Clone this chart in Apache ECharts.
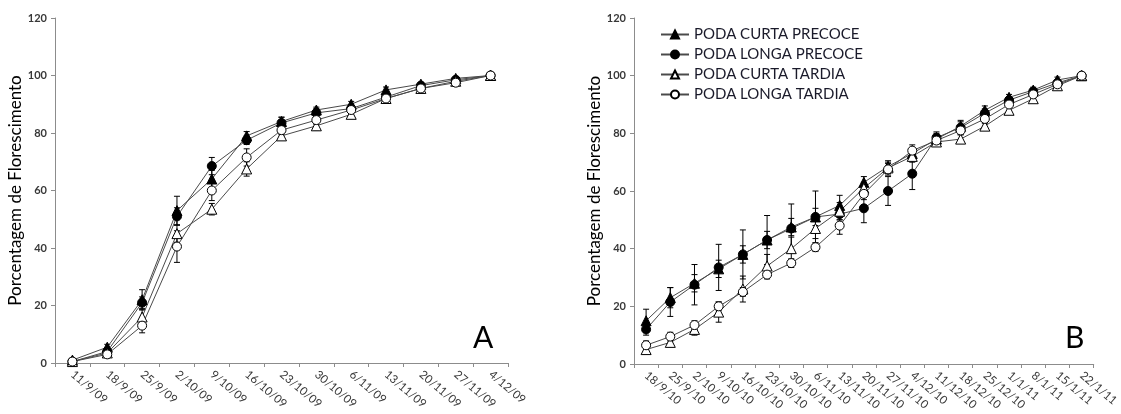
<!DOCTYPE html>
<html>
<head>
<meta charset="utf-8">
<script src="https://cdn.jsdelivr.net/npm/echarts@6/dist/echarts.min.js"></script>
<style>
  html, body { margin: 0; padding: 0; background: #fff; }
  #chart { width: 1121px; height: 414px; }
</style>
</head>
<body>
<div id="chart"></div>
<script>
// categorias (datas)
var datasA = ['11/9/09', '18/9/09', '25/9/09', '2/10/09', '9/10/09', '16/10/09', '23/10/09',
  '30/10/09', '6/11/09', '13/11/09', '20/11/09', '27/11/09', '4/12/09'];
var datasB = ['18/9/10', '25/9/10', '2/10/10', '9/10/10', '16/10/10', '23/10/10', '30/10/10',
  '6/11/10', '13/11/10', '20/11/10', '27/11/10', '4/12/10', '11/12/10', '18/12/10',
  '25/12/10', '1/1/11', '8/1/11', '15/1/11', '22/1/11'];
var yTicks = [0, 20, 40, 60, 80, 100, 120];

var nomes = ['PODA CURTA PRECOCE', 'PODA LONGA PRECOCE', 'PODA CURTA TARDIA', 'PODA LONGA TARDIA'];

// painel A - media e erro
var curtaPrecoceA = [1, 5.5, 22, 53, 64, 79, 84, 88, 90, 95, 97, 99, 100];
var longaPrecoceA = [0.5, 4, 21, 51, 68.5, 77.5, 83.5, 87, 88.5, 92.5, 96.5, 98.5, 100];
var curtaTardiaA = [0.5, 3.5, 16, 45, 53.5, 67.5, 79, 82.5, 86.5, 92, 95.5, 98, 100];
var longaTardiaA = [0.5, 3, 13, 40.5, 60, 71.5, 81, 84.5, 88, 92, 95.5, 97.5, 100];
var erroCurtaPrecoceA = [0.5, 1, 3.5, 5, 3, 1.5, 1.5, 1, 1, 1, 0.5, 0.5, 0];
var erroLongaPrecoceA = [0.5, 1, 2, 3, 3, 1.5, 2, 1.5, 1, 1, 1, 0.5, 0];
var erroCurtaTardiaA = [0.5, 1, 2.5, 3, 2, 2.5, 1.5, 1.5, 1, 1, 1, 0.5, 0];
var erroLongaTardiaA = [0.5, 1, 2.5, 5.5, 3.5, 3, 1.5, 1.5, 1, 1, 1, 0.5, 0];

// painel B - media e erro
var curtaPrecoceB = [15, 23, 28, 33, 38, 43, 47.5, 51, 55, 63, 68.5, 73, 78, 82.5, 88, 92.5, 95, 98.5, 100];
var longaPrecoceB = [12, 21.5, 27.5, 33.5, 38, 43, 47, 51, 52, 54, 60, 66, 78.5, 82, 87, 91.5, 94.5, 97.5, 100];
var curtaTardiaB = [5, 7.5, 12, 18, 26, 34, 40, 47, 53, 61, 68, 72, 77, 78, 82.5, 88, 92, 96.5, 100];
var longaTardiaB = [6.5, 9.5, 13.5, 20, 25, 31, 35, 40.5, 48, 59, 67.5, 74, 77.5, 81, 85, 90, 93.5, 97, 100];
var erroCurtaPrecoceB = [4, 3.5, 3, 3, 3, 3, 3, 3, 3.5, 2, 2, 2, 2, 1.5, 1.5, 1, 1, 1, 0];
var erroLongaPrecoceB = [2, 5, 7, 8, 8.5, 8.5, 8.5, 9, 2, 5, 5, 5.5, 2, 2.5, 1.5, 1, 1, 0.5, 0];
var erroCurtaTardiaB = [1.5, 1.5, 2, 3.5, 4.5, 4, 4, 3.5, 3, 2, 2, 2, 1.5, 1.5, 1, 1, 1, 0.5, 0];
var erroLongaTardiaB = [1.5, 1.5, 1.5, 1.5, 1.5, 1.5, 1.5, 1.5, 3, 2, 2, 2, 1.5, 1, 1, 1, 1, 0.5, 0];

var fonte = 'Lato';
var corEixo = '#8c8c8c';
var corTexto = '#383838';

// estilo de cada tratamento: simbolo e preenchimento
var estilos = [
  { symbol: 'triangle', size: 10, fill: '#000' },
  { symbol: 'circle', size: 9, fill: '#000' },
  { symbol: 'triangle', size: 10, fill: '#fff' },
  { symbol: 'circle', size: 9, fill: '#fff' }
];

function serieLinha(i, dados, idx) {
  return {
    name: nomes[i],
    type: 'line',
    xAxisIndex: idx,
    yAxisIndex: idx,
    data: dados,
    symbol: estilos[i].symbol,
    symbolSize: estilos[i].size,
    showAllSymbol: true,
    lineStyle: { color: '#4a4a4a', width: 1 },
    itemStyle: { color: estilos[i].fill, borderColor: '#000', borderWidth: 1 },
    z: 3,
    animation: false
  };
}

function renderErro(params, api) {
  var x = api.value(0), y = api.value(1), e = api.value(2);
  if (!e) return null;
  var hi = api.coord([x, y + e]);
  var lo = api.coord([x, y - e]);
  var w = 3;
  var st = { stroke: '#000', lineWidth: 1 };
  return {
    type: 'group',
    children: [
      { type: 'line', shape: { x1: hi[0], y1: hi[1], x2: lo[0], y2: lo[1] }, style: st },
      { type: 'line', shape: { x1: hi[0] - w, y1: hi[1], x2: hi[0] + w, y2: hi[1] }, style: st },
      { type: 'line', shape: { x1: lo[0] - w, y1: lo[1], x2: lo[0] + w, y2: lo[1] }, style: st }
    ]
  };
}

function serieErro(medias, erros, idx) {
  var d = [];
  for (var k = 0; k < medias.length; k++) {
    d.push([k, medias[k], erros[k]]);
  }
  return {
    type: 'custom',
    xAxisIndex: idx,
    yAxisIndex: idx,
    renderItem: renderErro,
    encode: { x: 0, y: 1 },
    data: d,
    z: 2,
    silent: true,
    animation: false
  };
}

function eixoX(cats, idx) {
  return {
    type: 'category',
    gridIndex: idx,
    data: cats,
    boundaryGap: true,
    axisLine: { lineStyle: { color: corEixo, width: 1 } },
    axisTick: { show: true, length: 4, lineStyle: { color: corEixo } },
    axisLabel: {
      interval: 0,
      rotate: -40,
      margin: 10,
      fontFamily: fonte,
      fontSize: 11.5,
      color: corTexto
    },
    splitLine: { show: false }
  };
}

function eixoY(idx) {
  return {
    type: 'value',
    gridIndex: idx,
    min: yTicks[0],
    max: yTicks[yTicks.length - 1],
    interval: yTicks[1] - yTicks[0],
    name: 'Porcentagem de Florescimento',
    nameLocation: 'middle',
    nameGap: 27,
    nameTextStyle: { fontFamily: fonte, fontSize: 17, color: '#000' },
    axisLine: { show: true, lineStyle: { color: corEixo, width: 1 } },
    axisTick: { show: true, length: 4, lineStyle: { color: corEixo } },
    axisLabel: { fontFamily: fonte, fontSize: 11, fontWeight: 'bold', color: corTexto, margin: 8 },
    splitLine: { show: false }
  };
}

var myChart = echarts.init(document.getElementById('chart'), null, { renderer: 'canvas' });

var series = [];
var mediasA = [curtaPrecoceA, longaPrecoceA, curtaTardiaA, longaTardiaA];
var errosA = [erroCurtaPrecoceA, erroLongaPrecoceA, erroCurtaTardiaA, erroLongaTardiaA];
var mediasB = [curtaPrecoceB, longaPrecoceB, curtaTardiaB, longaTardiaB];
var errosB = [erroCurtaPrecoceB, erroLongaPrecoceB, erroCurtaTardiaB, erroLongaTardiaB];
for (var i = 0; i < 4; i++) {
  series.push(serieErro(mediasA[i], errosA[i], 0));
  series.push(serieErro(mediasB[i], errosB[i], 1));
}
for (var j = 0; j < 4; j++) {
  series.push(serieLinha(j, mediasA[j], 0));
  series.push(serieLinha(j, mediasB[j], 1));
}

var option = {
  backgroundColor: '#fff',
  animation: false,
  title: [
    { text: 'A', left: 468, top: 318, textStyle: { fontFamily: fonte, fontSize: 30, fontWeight: 'normal', color: '#000' } },
    { text: 'B', left: 1060, top: 318, textStyle: { fontFamily: fonte, fontSize: 30, fontWeight: 'normal', color: '#000' } }
  ],
  legend: {
    data: nomes,
    orient: 'vertical',
    left: 655,
    top: 22,
    itemWidth: 28,
    itemHeight: 10,
    itemGap: 5,
    selectedMode: false,
    textStyle: { fontFamily: fonte, fontSize: 15, color: '#1a1a2a' }
  },
  grid: [
    { left: 55, top: 18, width: 453, height: 345 },
    { left: 634, top: 18, width: 471, height: 346 }
  ],
  xAxis: [eixoX(datasA, 0), eixoX(datasB, 1)],
  yAxis: [eixoY(0), eixoY(1)],
  series: series
};

myChart.setOption(option);
</script>
</body>
</html>
